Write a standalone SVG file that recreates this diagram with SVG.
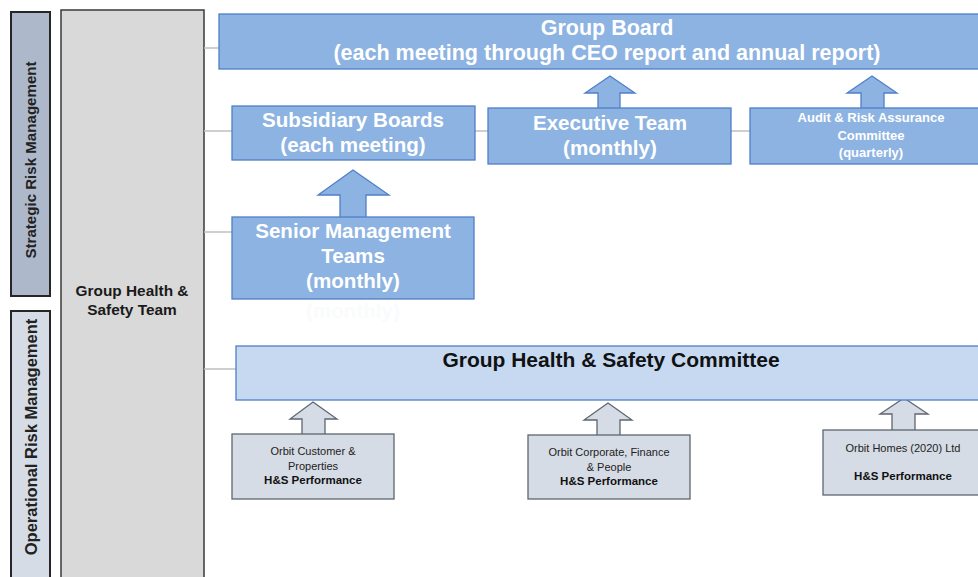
<svg xmlns="http://www.w3.org/2000/svg" width="978" height="577" viewBox="0 0 978 577">
  <style>
    .band { stroke: #262626; stroke-width: 2; }
    .team { fill: #d9d9d9; stroke: #3a3a3a; stroke-width: 1.5; }
    .blue { fill: #8db3e2; stroke: #4f7fc8; stroke-width: 1.3; }
    .pale { fill: #c6d9f1; stroke: #4f7fc8; stroke-width: 1.3; }
    .grey { fill: #d6dce5; stroke: #5f6670; stroke-width: 1.3; }
    .link { stroke: #bfbfbf; stroke-width: 1.5; fill: none; }
    .up-blue { fill: #8db3e2; stroke: #4f7fc8; stroke-width: 1.3; }
    .up-grey { fill: #d6dce5; stroke: #5f6670; stroke-width: 1.3; }
    text { font-family: "Liberation Sans", Arial, sans-serif; text-anchor: middle; }
    .w20 { fill: #ffffff; font-size: 20.6px; font-weight: bold; }
    .w13 { fill: #ffffff; font-size: 13px; font-weight: bold; }
    .side { fill: #222222; font-weight: bold; }
    .dark15 { fill: #1a1a1a; font-size: 15.4px; font-weight: bold; }
    .small { fill: #222222; font-size: 11px; }
    .smallb { fill: #111111; font-size: 11.5px; font-weight: bold; }
  </style>

  <rect width="978" height="577" fill="#ffffff"/>

  <!-- side bands -->
  <g id="strategic-band">
    <rect class="band" x="11" y="12" width="39" height="284" fill="#adb9ca"/>
    <text class="side" style="font-size:15.1px" transform="translate(36,160) rotate(-90)">Strategic Risk Management</text>
  </g>
  <g id="operational-band">
    <rect class="band" x="11" y="311" width="39" height="280" fill="#d6dce5"/>
    <text class="side" style="font-size:16.5px" transform="translate(37,437) rotate(-90)">Operational Risk Management</text>
  </g>

  <g id="hs-team">
    <rect class="team" x="61" y="10" width="143" height="580"/>
    <text class="dark15" x="132" y="296">Group Health &amp;</text>
    <text class="dark15" x="132" y="315">Safety Team</text>
  </g>

  <!-- connectors: thin links and block arrows -->
  <g id="connectors">
    <line class="link" x1="204" y1="48" x2="219" y2="48"/>
    <line class="link" x1="204" y1="131" x2="232" y2="131"/>
    <line class="link" x1="475" y1="131" x2="488" y2="131"/>
    <line class="link" x1="731" y1="131" x2="750" y2="131"/>
    <line class="link" x1="204" y1="232" x2="232" y2="232"/>
    <line class="link" x1="204" y1="369" x2="236" y2="369"/>

    <polygon class="up-blue" points="353,170 389,195 366,195 366,218 340,218 340,195 318,195"/>
    <polygon class="up-blue" points="610,76 635,93 620,93 620,109 598,109 598,93 585,93"/>
    <polygon class="up-blue" points="872,76 897,93 884,93 884,109 861,109 861,93 847,93"/>

    <polygon class="up-grey" points="313,402 337,419 325,419 325,435 302,435 302,419 290,419"/>
    <polygon class="up-grey" points="608,403 632,420 620,420 620,436 597,436 597,420 584,420"/>
    <polygon class="up-grey" points="904,398 928,414 915,414 915,431 892,431 892,414 880,414"/>
  </g>

  <g id="group-board">
    <rect class="blue" x="219" y="14" width="770" height="55"/>
    <text class="w20" x="607" y="35" style="font-size:21.5px">Group Board</text>
    <text class="w20" x="607" y="60" style="font-size:21.5px">(each meeting through CEO report and annual report)</text>
  </g>

  <g id="subsidiary-boards">
    <rect class="blue" x="232" y="106" width="243" height="54"/>
    <text class="w20" x="353" y="127">Subsidiary Boards</text>
    <text class="w20" x="353" y="152">(each meeting)</text>
  </g>

  <g id="executive-team">
    <rect class="blue" x="488" y="108" width="243" height="56"/>
    <text class="w20" x="610" y="130">Executive Team</text>
    <text class="w20" x="610" y="155">(monthly)</text>
  </g>

  <g id="audit-risk">
    <rect class="blue" x="750" y="108" width="240" height="56"/>
    <text class="w13" x="871" y="122">Audit &amp; Risk Assurance</text>
    <text class="w13" x="871" y="140">Committee</text>
    <text class="w13" x="871" y="157">(quarterly)</text>
  </g>

  <g id="senior-management">
    <rect class="blue" x="232" y="217" width="242" height="82"/>
    <text class="w20" x="353" y="238">Senior Management</text>
    <text class="w20" x="353" y="263">Teams</text>
    <text class="w20" x="353" y="288">(monthly)</text>
    <text class="w20" x="353" y="318" style="fill:#fafbfc">(monthly)</text>
  </g>

  <g id="hs-committee">
    <rect class="pale" x="236" y="346" width="754" height="54"/>
    <text x="611" y="367" style="fill:#111111;font-size:21px;font-weight:bold">Group Health &amp; Safety Committee</text>
  </g>

  <g id="customer-properties">
    <rect class="grey" x="232" y="434" width="162" height="65"/>
    <text class="small" x="313" y="455">Orbit Customer &amp;</text>
    <text class="small" x="313" y="470">Properties</text>
    <text class="smallb" x="313" y="484">H&amp;S Performance</text>
  </g>

  <g id="corporate-finance">
    <rect class="grey" x="528" y="435" width="162" height="64"/>
    <text class="small" x="609" y="456">Orbit Corporate, Finance</text>
    <text class="small" x="609" y="471">&amp; People</text>
    <text class="smallb" x="609" y="485">H&amp;S Performance</text>
  </g>

  <g id="orbit-homes">
    <rect class="grey" x="823" y="430" width="170" height="65"/>
    <text class="small" x="903" y="452">Orbit Homes (2020) Ltd</text>
    <text class="smallb" x="903" y="480">H&amp;S Performance</text>
  </g>
</svg>
